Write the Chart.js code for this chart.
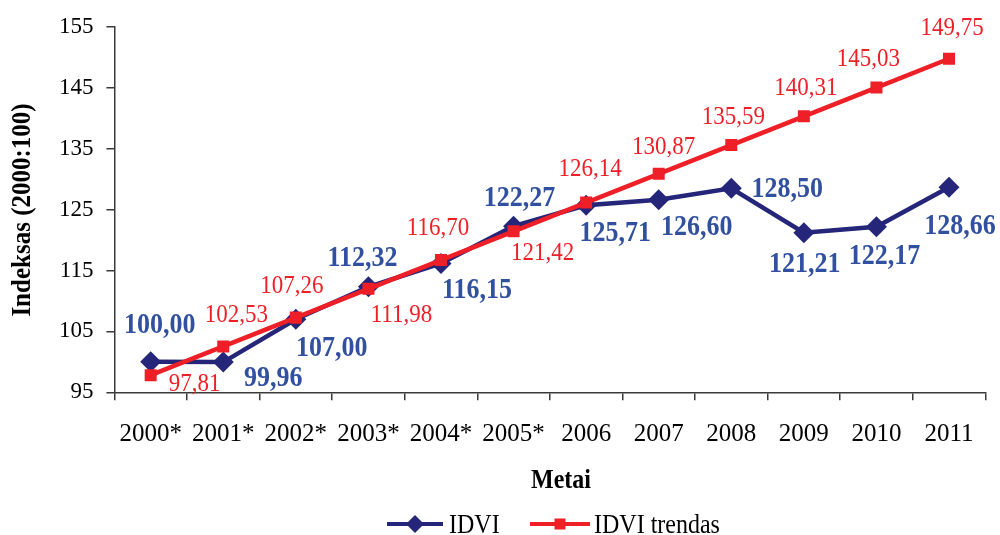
<!DOCTYPE html>
<html><head><meta charset="utf-8">
<script src="https://cdn.jsdelivr.net/npm/chart.js@4/dist/chart.umd.min.js"></script>
<style>html,body{margin:0;padding:0;background:#fff}canvas{display:block}</style>
</head><body>
<canvas id="c" width="1000" height="535"></canvas>
<script>
const categories = ['2000*','2001*','2002*','2003*','2004*','2005*','2006','2007','2008','2009','2010','2011'];
const idvi = [100.00, 99.96, 107.00, 112.32, 116.15, 122.27, 125.71, 126.60, 128.50, 121.21, 122.17, 128.66];
const idviTrend = [97.81, 102.53, 107.26, 111.98, 116.70, 121.42, 126.14, 130.87, 135.59, 140.31, 145.03, 149.75];
const yTicks = [95, 105, 115, 125, 135, 145, 155];
const seriesNames = ['IDVI', 'IDVI trendas'];
const yTitle = 'Indeksas (2000:100)';
const xTitle = 'Metai';

const FONT = "'Liberation Serif', 'Times New Roman', serif";
const NAVY = '#25257a';
const BLUE_TXT = '#3250a0';
const RED = '#ee1f26';
const AXIS = '#3a3a3a';

function fmt(v){ return v.toFixed(2).replace('.', ','); }

function stretchedText(ctx, text, x, y, sy) {
  ctx.save();
  ctx.translate(x, y);
  ctx.scale(1, sy);
  ctx.fillText(text, 0, 0);
  ctx.restore();
}

const labelPlugin = {
  id: 'pointLabels',
  afterDatasetsDraw(chart, args, opts) {
    const ctx = chart.ctx;
    ctx.save();
    chart.data.datasets.forEach((ds, di) => {
      const meta = chart.getDatasetMeta(di);
      const cfg = opts.series[di];
      ctx.font = cfg.font;
      ctx.fillStyle = cfg.color;
      ctx.textAlign = 'center';
      ctx.textBaseline = 'alphabetic';
      meta.data.forEach((pt, i) => {
        const off = cfg.offsets[i];
        stretchedText(ctx, fmt(ds.data[i]), pt.x + off[0], pt.y + off[1] + cfg.size * 0.33 * 1.12, 1.12);
      });
    });
    ctx.restore();
  },
  afterDraw(chart, args, opts) {
    const ctx = chart.ctx;
    ctx.save();
    ctx.fillStyle = '#000';
    ctx.font = 'bold 25px ' + FONT;
    ctx.textAlign = 'center';
    ctx.textBaseline = 'middle';
    ctx.translate(23, 210);
    ctx.rotate(-Math.PI / 2);
    ctx.scale(1, 1.1);
    ctx.fillText(yTitle, 0, 0);
    ctx.restore();
    ctx.save();
    ctx.fillStyle = '#000';
    ctx.font = 'bold 24px ' + FONT;
    ctx.textAlign = 'center';
    ctx.textBaseline = 'middle';
    stretchedText(ctx, xTitle, 561, 481, 1.1);
    // legend
    const ly = 524;
    const items = [
      {x0: 387, x1: 443, mx: 415, text: 449, ds: 1},
      {x0: 530, x1: 590, mx: 560, text: 594, ds: 0}
    ];
    items.forEach(it => {
      const ds = chart.data.datasets[it.ds];
      ctx.strokeStyle = ds.borderColor;
      ctx.lineWidth = 4;
      ctx.beginPath(); ctx.moveTo(it.x0, ly); ctx.lineTo(it.x1, ly); ctx.stroke();
      ctx.fillStyle = ds.borderColor;
      ctx.beginPath();
      if (ds.pointStyle === 'rectRot') {
        ctx.moveTo(it.mx - 9, ly); ctx.lineTo(it.mx, ly - 9); ctx.lineTo(it.mx + 9, ly); ctx.lineTo(it.mx, ly + 9);
        ctx.closePath();
      } else {
        ctx.rect(it.mx - 5.5, ly - 5.5, 11, 11);
      }
      ctx.fill();
      ctx.fillStyle = '#000';
      ctx.font = '24px ' + FONT;
      ctx.textAlign = 'left';
      ctx.textBaseline = 'alphabetic';
      stretchedText(ctx, ds.label, it.text, ly + 8.5, 1.1);
    });
    ctx.restore();
  }
};

new Chart(document.getElementById('c'), {
  type: 'line',
  data: {
    labels: categories,
    datasets: [
      {
        label: seriesNames[1], data: idviTrend, order: 0,
        borderColor: RED, backgroundColor: RED, borderWidth: 4.5,
        pointStyle: 'rect', pointRadius: 8.5, pointBorderWidth: 0,
        pointBackgroundColor: RED, tension: 0
      },
      {
        label: seriesNames[0], data: idvi, order: 1,
        borderColor: NAVY, backgroundColor: NAVY, borderWidth: 4.5,
        pointStyle: 'rectRot', pointRadius: 10.5, pointBorderWidth: 0,
        pointBackgroundColor: NAVY, tension: 0
      }
    ]
  },
  options: {
    responsive: false,
    devicePixelRatio: 1,
    animation: false,
    layout: { padding: { left: 0, right: 14.7, top: 26, bottom: 0 } },
    plugins: {
      legend: { display: false },
      tooltip: { enabled: false },
      pointLabels: {
        series: [
          { font: '23px ' + FONT, size: 23, color: RED,
            offsets: [[44,7],[13,-33],[-4,-33],[33,25],[-3,-34],[29,20],[4,-35],[5,-28],[2,-30],[2,-30],[-8,-30],[3,-32]] },
          { font: 'bold 26px ' + FONT, size: 26, color: BLUE_TXT,
            offsets: [[9,-38],[50,14],[36,27],[-6,-30],[36,25],[6,-30],[29,26],[38,26],[56,-1],[1,30],[8,28],[11,37]] }
        ]
      }
    },
    scales: {
      x: {
        type: 'category',
        offset: true,
        afterFit(s) { s.height = 142.7; },
        grid: { display: true, drawOnChartArea: false, drawTicks: true, tickLength: 8, color: AXIS, lineWidth: 1.5, offset: true },
        border: { display: true, color: AXIS, width: 1.5 },
        ticks: { color: '#000', font: { family: FONT, size: 25 }, padding: 19, maxRotation: 0, autoSkip: false }
      },
      y: {
        min: 95, max: 155,
        afterFit(s) { s.width = 114.4; },
        afterBuildTicks(s) { s.ticks = yTicks.map(v => ({ value: v })); },
        grid: { display: true, drawOnChartArea: false, drawTicks: true, tickLength: 8, color: AXIS, lineWidth: 1.5 },
        border: { display: true, color: AXIS, width: 1.5 },
        ticks: { color: '#000', font: { family: FONT, size: 23 }, padding: 13 }
      }
    }
  },
  plugins: [labelPlugin]
});
</script>
</body></html>
